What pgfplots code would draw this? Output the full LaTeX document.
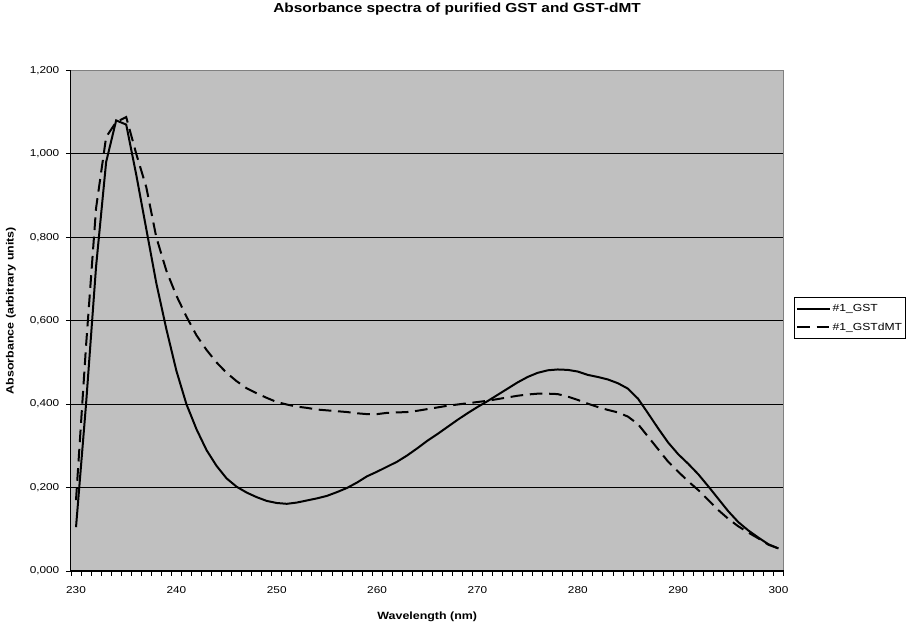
\documentclass[border=0pt]{standalone}
\usepackage{fontspec}
\setmainfont{Liberation Sans}[FakeStretch=1.18]
\usepackage{pgfplots}
\pgfplotsset{compat=1.18}
\usepackage{pgfplotstable}

\pgfplotstableread{
nm gst dmt
230 0.105 0.170
231 0.400 0.540
232 0.730 0.870
233 0.980 1.040
234 1.080 1.076
235 1.070 1.088
236 0.950 1.000
237 0.820 0.920
238 0.690 0.800
239 0.580 0.720
240 0.480 0.660
241 0.400 0.610
242 0.340 0.565
243 0.290 0.530
244 0.252 0.500
245 0.222 0.475
246 0.202 0.455
247 0.188 0.438
248 0.177 0.426
249 0.168 0.415
250 0.163 0.405
251 0.161 0.399
252 0.164 0.394
253 0.169 0.391
254 0.174 0.387
255 0.180 0.385
256 0.189 0.383
257 0.199 0.381
258 0.212 0.378
259 0.227 0.376
260 0.238 0.376
261 0.250 0.379
262 0.262 0.380
263 0.277 0.381
264 0.294 0.384
265 0.312 0.388
266 0.328 0.392
267 0.345 0.396
268 0.362 0.399
269 0.378 0.402
270 0.393 0.405
271 0.407 0.408
272 0.422 0.412
273 0.437 0.416
274 0.452 0.420
275 0.465 0.423
276 0.475 0.425
277 0.481 0.425
278 0.483 0.424
279 0.482 0.418
280 0.478 0.410
281 0.470 0.401
282 0.465 0.393
283 0.459 0.386
284 0.450 0.380
285 0.437 0.370
286 0.413 0.352
287 0.378 0.322
288 0.342 0.292
289 0.308 0.262
290 0.280 0.238
291 0.257 0.215
292 0.232 0.194
293 0.203 0.170
294 0.173 0.146
295 0.143 0.125
296 0.117 0.107
297 0.097 0.092
298 0.080 0.078
299 0.064 0.063
300 0.054 0.054
}\spectra

\begin{document}
\begin{tikzpicture}
\path[use as bounding box] (-53.25pt,-39pt) rectangle (627pt,428.25pt);
\begin{axis}[
  at={(0,0)}, anchor=south west,
  scale only axis, width=534.4pt, height=375.5pt,
  clip=false,
  xmin=229.5, xmax=300.5, ymin=0, ymax=1.2,
  xtick={230,240,250,260,270,280,290,300},
  minor xtick={229.5,230.5,...,300.5},
  ytick={0,0.2,0.4,0.6,0.8,1.0,1.2},
  scaled y ticks=false,
  tick pos=left,
  tick align=outside,
  major tick length=3.75pt, minor tick length=3.75pt,
  major x tick style={draw=none},
  minor x tick style={black, line width=0.6pt},
  major y tick style={black, line width=0.6pt},
  /pgf/number format/assume math mode=true,
  xticklabel style={font=\fontsize{7.5}{9}\selectfont, yshift=-4pt,
    /pgf/number format/.cd, 1000 sep={}},
  yticklabel style={font=\fontsize{7.5}{9}\selectfont, xshift=-1.5pt,
    /pgf/number format/.cd, fixed, fixed zerofill, precision=3, use comma},
  ymajorgrids,
  major grid style={black, line width=0.5pt},
  axis line style={draw=black!50, line width=0.75pt},
  axis background/.style={fill={rgb,255:red,192;green,192;blue,192}},
  title={Absorbance spectra of purified GST and GST-dMT},
  title style={font=\bfseries\fontsize{9.8}{12}\selectfont,
    at={(axis description cs:0.5418,1.1055)}, anchor=center},
  xlabel={Wavelength (nm)},
  every axis x label/.style={at={(axis description cs:0.5,-0.0913)},
    anchor=center, font=\bfseries\fontsize{7.9}{10}\selectfont},
  ylabel={Absorbance (arbitrary units)},
  every axis y label/.style={at={(axis description cs:-0.0842,0.52)},
    rotate=90, anchor=center, font=\bfseries\fontsize{7.9}{10}\selectfont},
  legend style={at={(axis description cs:1.0147,0.547)}, anchor=north west,
    draw=black, line width=0.6pt, fill=white,
    font=\fontsize{7.7}{9}\selectfont,
    inner xsep=1.5pt, inner ysep=3pt, row sep=3pt,
    nodes={inner xsep=1pt}},
  legend cell align=left,
  legend image code/.code={\draw[#1] (0pt,0pt) -- (24.75pt,0pt);},
]
\addplot[black, line width=1.5pt] table[x=nm, y=gst] {\spectra};
\addlegendentry{\#1\_GST}
\addplot[black, line width=1.5pt, dash pattern=on 9.5pt off 5pt] table[x=nm, y=dmt] {\spectra};
\addlegendentry{\#1\_GSTdMT}
\draw[black!50, line width=0.75pt] (rel axis cs:0,1) -- (rel axis cs:1,1) -- (rel axis cs:1,0);
\draw[black, line width=0.75pt] (rel axis cs:0,1) -- (rel axis cs:0,0) -- (rel axis cs:1,0);
\end{axis}
\end{tikzpicture}
\end{document}
